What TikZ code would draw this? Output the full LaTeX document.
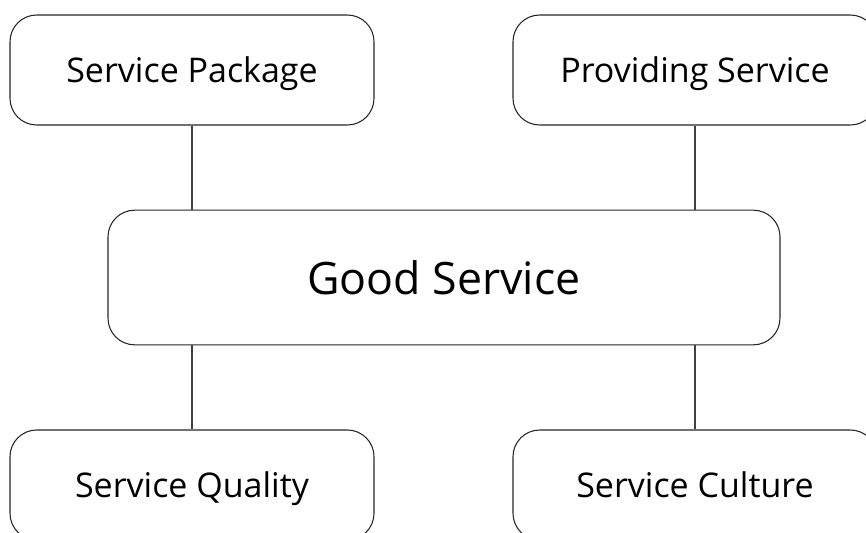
\documentclass[tikz,border=0pt]{standalone}
\usepackage{fontspec}
\setmainfont{Open Sans}
\usepackage{tikz}

\tikzset{
  box/.style={draw=black!85, line width=0.8pt, rounded corners=20pt, align=center,
    minimum width=273pt, minimum height=82.5pt, inner sep=0pt,
    text height=19pt, text depth=0pt, font=\fontsize{25.5}{30}\selectfont},
  mainbox/.style={box, minimum width=504pt, minimum height=101pt,
    text height=25pt, font=\fontsize{33.5}{40}\selectfont},
  link/.style={draw=black!75, line width=0.8pt}
}

\begin{document}
\begin{tikzpicture}[x=0.75pt, y=-0.75pt]
\useasboundingbox (0,0) rectangle (866,532);
\clip (0,0) rectangle (866,532);

% Central node
\node[mainbox] (good) at (444,277.5) {Good Service};

% Upper nodes
\node[box] (pkg) at (192,70) {Service Package};
\node[box] (prov) at (695,70) {Providing Service};

% Lower nodes
\node[box] (qual) at (192,485) {Service Quality};
\node[box] (cult) at (695,485) {Service Culture};

% Links to the centre
\draw[link] (pkg) -- (pkg |- good.north);
\draw[link] (prov) -- (prov |- good.north);
\draw[link] (qual) -- (qual |- good.south);
\draw[link] (cult) -- (cult |- good.south);
\end{tikzpicture}
\end{document}
